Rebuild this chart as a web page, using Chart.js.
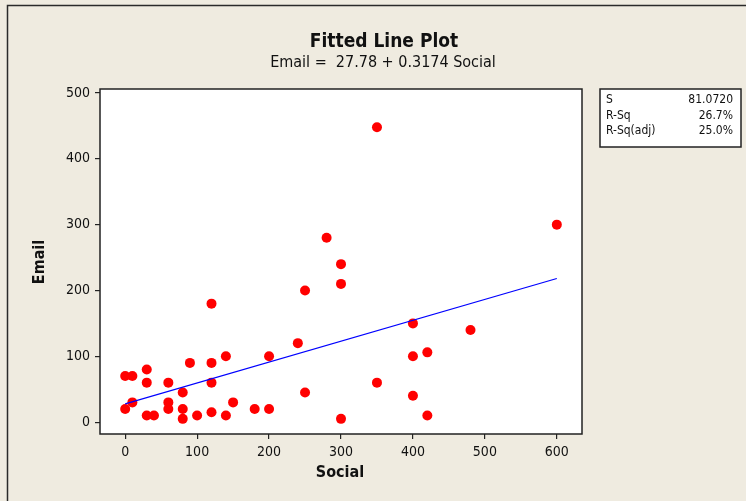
<!DOCTYPE html>
<html>
<head>
<meta charset="utf-8">
<script src="https://cdn.jsdelivr.net/npm/chart.js@4/dist/chart.umd.min.js"></script>
<style>
  html, body { margin: 0; padding: 0; background: #efebe0; }
  #wrap { width: 746px; height: 501px; }
</style>
</head>
<body>
<div id="wrap"><canvas id="fitChart" width="746" height="501"></canvas></div>
<script>
/* Fitted Line Plot — Email vs Social */

const socialValues = [0, 10, 30, 90, 120, 140, 30, 60, 120, 80, 10, 60, 0, 60, 80, 150, 180, 30, 40, 80, 100, 120, 140, 200,
                      120, 350, 280, 300, 300, 250, 400, 480, 240, 200, 400, 420, 350, 250, 400, 300, 420, 600];
const emailValues  = [70, 70, 80, 90, 90, 100, 60, 60, 60, 45, 30, 30, 20, 20, 20, 30, 20, 10, 10, 5, 10, 15, 10, 20,
                      180, 448, 280, 240, 210, 200, 150, 140, 120, 100, 100, 106, 60, 45, 40, 5, 10, 300];

// fitted line endpoints (Email = 27.78 + 0.3174 Social)
const fitSocial = [0, 600];
const fitEmail  = [27.78, 218.22];

const xTicks = [0, 100, 200, 300, 400, 500, 600];
const yTicks = [0, 100, 200, 300, 400, 500];

const statLabels = ['S', 'R-Sq', 'R-Sq(adj)'];
const statValues = ['81.0720', '26.7%', '25.0%'];

const FONT = '"DejaVu Sans Condensed", "DejaVu Sans", sans-serif';

const minitabDecor = {
    id: 'minitabDecor',
    beforeDraw(chart) {
        const ctx = chart.ctx;
        const a = chart.chartArea;
        ctx.save();
        ctx.fillStyle = '#efebe0';
        ctx.fillRect(0, 0, chart.width, chart.height);
        // outer frame
        ctx.strokeStyle = '#2a2a2a';
        ctx.lineWidth = 1.5;
        ctx.beginPath();
        ctx.moveTo(7.5, chart.height + 5);
        ctx.lineTo(7.5, 5.5);
        ctx.lineTo(chart.width + 5, 5.5);
        ctx.stroke();
        // plot area
        ctx.fillStyle = '#ffffff';
        ctx.fillRect(a.left, a.top, a.right - a.left, a.bottom - a.top);
        ctx.restore();
    },
    afterDraw(chart) {
        const ctx = chart.ctx;
        const a = chart.chartArea;
        ctx.save();
        ctx.strokeStyle = '#222';
        ctx.lineWidth = 1.5;
        ctx.strokeRect(a.left, a.top, a.right - a.left, a.bottom - a.top);

        // titles
        ctx.fillStyle = '#111';
        ctx.textAlign = 'center';
        ctx.textBaseline = 'middle';
        ctx.font = 'bold 19px ' + FONT;
        ctx.fillText('Fitted Line Plot', 384, 42);
        ctx.font = '16px ' + FONT;
        ctx.fillText('Email =  27.78 + 0.3174 Social', 383, 63);

        // axis titles
        ctx.font = 'bold 16px ' + FONT;
        ctx.fillText('Social', 340, 473);
        ctx.translate(40, 262);
        ctx.rotate(-Math.PI / 2);
        ctx.fillText('Email', 0, 0);
        ctx.restore();

        // stats box
        ctx.save();
        ctx.fillStyle = '#ffffff';
        ctx.fillRect(600, 89, 141, 58);
        ctx.strokeStyle = '#222';
        ctx.lineWidth = 1.5;
        ctx.strokeRect(600, 89, 141, 58);
        ctx.fillStyle = '#111';
        ctx.font = '12px ' + FONT;
        ctx.textBaseline = 'middle';
        statLabels.forEach((lab, i) => {
            const y = 100 + i * 15.5;
            ctx.textAlign = 'left';
            ctx.fillText(lab, 606, y);
            ctx.textAlign = 'right';
            ctx.fillText(statValues[i], 733, y);
        });
        ctx.restore();
    }
};

const axisCommon = {
    type: 'linear',
    grid: { drawOnChartArea: false, drawTicks: true, tickLength: 5, color: '#222', lineWidth: 1.2 },
    border: { display: false },
    ticks: { color: '#111', font: { family: FONT, size: 14 }, padding: 5 }
};

new Chart(document.getElementById('fitChart'), {
    type: 'scatter',
    data: {
        datasets: [
            {
                type: 'line',
                label: 'Fit',
                data: fitSocial.map((x, i) => ({ x: x, y: fitEmail[i] })),
                borderColor: '#0000ff',
                borderWidth: 1.2,
                pointRadius: 0,
                fill: false
            },
            {
                label: 'Data',
                data: socialValues.map((x, i) => ({ x: x, y: emailValues[i] })),
                backgroundColor: '#ff0000',
                borderColor: '#ff0000',
                borderWidth: 0,
                pointRadius: 5
            }
        ]
    },
    options: {
        responsive: false,
        devicePixelRatio: 1,
        animation: false,
        layout: { padding: { top: 89, right: 164, left: 0, bottom: 0 } },
        plugins: { legend: { display: false }, tooltip: { enabled: false } },
        scales: {
            x: {
                ...axisCommon,
                min: -35,
                max: 635,
                afterBuildTicks: s => { s.ticks = xTicks.map(v => ({ value: v })); },
                afterFit: s => { s.height = 67; }
            },
            y: {
                ...axisCommon,
                min: -18,
                max: 506,
                afterBuildTicks: s => { s.ticks = yTicks.map(v => ({ value: v })); },
                afterFit: s => { s.width = 100; }
            }
        }
    },
    plugins: [minitabDecor]
});
</script>
</body>
</html>
